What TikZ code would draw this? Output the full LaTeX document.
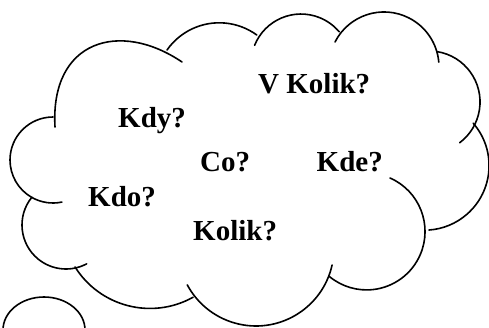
\documentclass[tikz,border=0pt]{standalone}
\usepackage{fontspec}
\setmainfont{Liberation Serif}
\usetikzlibrary{positioning}
\tikzset{
  cloudline/.style={draw=black, line width=1.6pt, line cap=round},
  askword/.style={font=\bfseries\fontsize{29}{31}\selectfont, anchor=base west, inner sep=0pt},
}

\begin{document}
\begin{tikzpicture}[x=1pt, y=-1pt]
    \useasboundingbox (0,0) rectangle (489,327);
    % cloud outline, bump by bump
    \draw[cloudline] (53,117) arc[start angle=270, end angle=78, radius=43];
    \draw[cloudline] (55,127) .. controls (50,40) and (120,20) .. (182,62);
    \draw[cloudline] (167,50) arc[start angle=215, end angle=306, radius=63.8];
    \draw[cloudline] (254.6,45.3) arc[start angle=202, end angle=320, radius=50];
    \draw[cloudline] (335,42) arc[start angle=207, end angle=355, radius=55];
    \draw[cloudline] (437,51.6) arc[start angle=279, end angle=413, radius=51];
    \draw[cloudline] (473.2,123.2) arc[start angle=319, end angle=446, radius=64.6];
    \draw[cloudline] (390,178) arc[start angle=293.6, end angle=489.7, radius=58.4];
    \draw[cloudline] (332.1,265) arc[start angle=12.6, end angle=151.8, radius=78];
    \draw[cloudline] (193.1,297.2) arc[start angle=60.8, end angle=148, radius=88.4];
    \draw[cloudline] (31.8,197.3) arc[start angle=219, end angle=62, radius=44];
    % small thought bubble
    \begin{scope}
      \clip (0,0) rectangle (489,327);
      \draw[cloudline] (44,330) ellipse[x radius=41, y radius=33];
    \end{scope}
    % questions
    \node[askword] (vkolik) at (258,93) {V Kolik?};
    \node[askword] (kdy) at (118,127) {Kdy?};
    \node[askword] (co) at (200,171.5) {Co?};
    \node[askword] (kde) at (316.5,171.5) {Kde?};
    \node[askword] (kdo) at (88,206) {Kdo?};
    \node[askword] (kolik) at (193,240) {Kolik?};
\end{tikzpicture}
\end{document}
